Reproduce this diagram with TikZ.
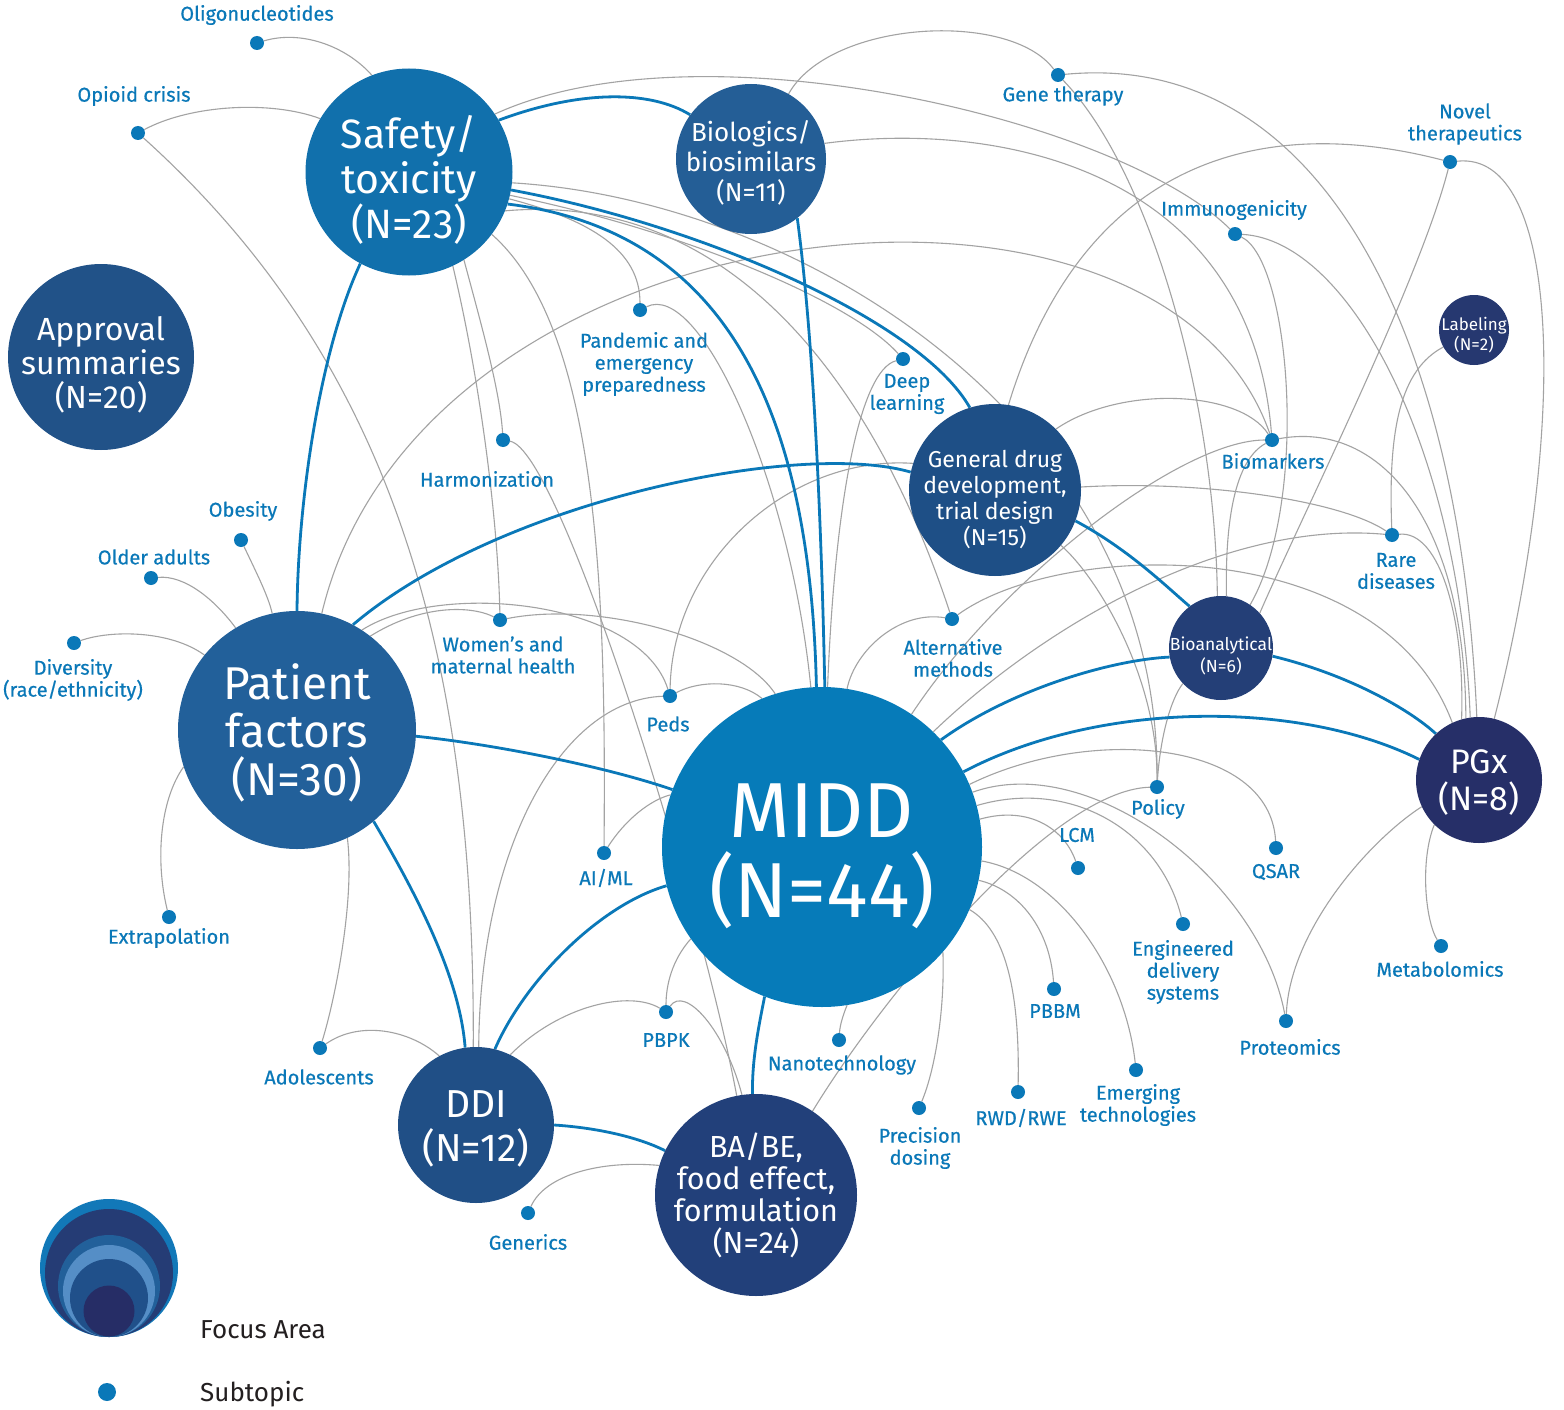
\documentclass[tikz,border=0pt]{standalone}
\usepackage{fontspec}
\setmainfont{Fira Sans}
\newfontfamily\lblfam[FakeBold=0.5]{Fira Sans}
\pgfdeclarelayer{bg}
\pgfdeclarelayer{back}
\pgfsetlayers{bg,back,main}
\definecolor{lblue}{HTML}{0A78B8}
\definecolor{eblue}{HTML}{0A78B8}
\definecolor{egray}{HTML}{A3A3A3}
\definecolor{cS}{HTML}{1170AC}
\definecolor{cAP}{HTML}{215288}
\definecolor{cBI}{HTML}{245E96}
\definecolor{cP}{HTML}{22609A}
\definecolor{cM}{HTML}{067BB9}
\definecolor{cG}{HTML}{1E4F86}
\definecolor{cBA}{HTML}{243F77}
\definecolor{cLA}{HTML}{263870}
\definecolor{cPG}{HTML}{262F68}
\definecolor{cDD}{HTML}{204F86}
\definecolor{cBB}{HTML}{22407A}
\definecolor{legtext}{HTML}{231F20}
\definecolor{lgA}{HTML}{1278B8}
\definecolor{lgB}{HTML}{253C75}
\definecolor{lgC}{HTML}{22609A}
\definecolor{lgD}{HTML}{558EC6}
\definecolor{lgE}{HTML}{20508A}
\definecolor{lgF}{HTML}{262D66}
\newcommand{\gE}[4]{\draw[gline] #1 .. controls #2 and #3 .. #4;}
\newcommand{\bE}[4]{\draw[bline] #1 .. controls #2 and #3 .. #4;}
\tikzset{
  focus/.style={circle, inner sep=0pt, minimum size=#1},
  ftext/.style={text=white, align=center, inner sep=0pt},
  dot/.style={circle, fill=lblue, inner sep=0pt, minimum size=14pt},
  lbl/.style={text=lblue, align=center, inner sep=0pt, font=\lblfam\fontsize{20}{22}\selectfont},
  gline/.style={draw=egray, line width=1.1pt},
  bline/.style={draw=eblue, line width=2.8pt},
  legtxt/.style={anchor=base west, text=legtext, inner sep=0pt, font=\fontsize{26}{28}\selectfont}
}
\begin{document}
\begin{tikzpicture}[x=1pt,y=-1pt]
\useasboundingbox (0,0) rectangle (1564,1410);
\begin{pgfonlayer}{bg}
\fill[white] (0,0) rectangle (1564,1410);
\end{pgfonlayer}

% focus areas (circle and its text)
\node[focus=207pt, fill=cS] (S) at (409,172) {};
\node[ftext, font=\fontsize{41}{45}\selectfont] (tS) at ([yshift=-7.5pt]S.center) {Safety/\\toxicity\\(N=23)};
\node[focus=186pt, fill=cAP] (AP) at (101,357) {};
\node[ftext, font=\fontsize{32}{34}\selectfont] (tAP) at ([yshift=-8pt]AP.center) {Approval\\summaries\\(N=20)};
\node[focus=150pt, fill=cBI] (BI) at (751,159) {};
\node[ftext, font=\fontsize{26}{30}\selectfont] (tBI) at ([yshift=-4pt]BI.center) {Biologics/\\biosimilars\\(N=11)};
\node[focus=238pt, fill=cP] (P) at (297,730) {};
\node[ftext, font=\fontsize{46}{48}\selectfont] (tP) at ([yshift=-3pt]P.center) {Patient\\factors\\(N=30)};
\node[focus=320pt, fill=cM] (M) at (822,847) {};
\node[ftext, font=\fontsize{78}{80}\selectfont] (tM) at ([yshift=-9pt]M.center) {MIDD\\(N=44)};
\node[focus=172pt, fill=cG] (G) at (995,490) {};
\node[ftext, font=\fontsize{23}{26}\selectfont] (tG) at ([yshift=-10pt]G.center) {General drug\\development,\\trial design\\(N=15)};
\node[focus=104pt, fill=cBA] (bioa) at (1221,648) {};
\node[ftext, font=\fontsize{17.5}{22}\selectfont] (tbioa) at ([yshift=-8pt]bioa.center) {Bioanalytical\\(N=6)};
\node[focus=70pt, fill=cLA] (LA) at (1474,330) {};
\node[ftext, font=\fontsize{17}{20}\selectfont] (tLA) at ([yshift=-5pt]LA.center) {Labeling\\(N=2)};
\node[focus=126pt, fill=cPG] (PG) at (1479,780) {};
\node[ftext, font=\fontsize{34}{37}\selectfont] (tPG) at ([yshift=-3pt]PG.center) {PGx\\(N=8)};
\node[focus=156pt, fill=cDD] (DD) at (476,1125) {};
\node[ftext, font=\fontsize{39}{44}\selectfont] (tDD) at ([yshift=-4pt]DD.center) {DDI\\(N=12)};
\node[focus=202pt, fill=cBB] (BB) at (756,1195) {};
\node[ftext, font=\fontsize{30.5}{32}\selectfont] (tBB) at (BB.center) {BA/BE,\\food effect,\\formulation\\(N=24)};

% subtopic dots
\node[dot] (oligo) at (257,43) {};
\node[dot] (opioid) at (138,133) {};
\node[dot] (gene) at (1058,75) {};
\node[dot] (novel) at (1450,162) {};
\node[dot] (immuno) at (1235,234) {};
\node[dot] (pand) at (640,310) {};
\node[dot] (deep) at (903,359) {};
\node[dot] (harm) at (503,440) {};
\node[dot] (biom) at (1272,440) {};
\node[dot] (obes) at (241,540) {};
\node[dot] (older) at (151,578) {};
\node[dot] (rare) at (1392,535) {};
\node[dot] (divers) at (74,643) {};
\node[dot] (women) at (500,620) {};
\node[dot] (altm) at (952,619) {};
\node[dot] (peds) at (670,696) {};
\node[dot] (policy) at (1157,787) {};
\node[dot] (lcm) at (1078,868) {};
\node[dot] (qsar) at (1276,848) {};
\node[dot] (aiml) at (604,853) {};
\node[dot] (extrap) at (169,917) {};
\node[dot] (engd) at (1183,924) {};
\node[dot] (metab) at (1441,946) {};
\node[dot] (pbbm) at (1054,989) {};
\node[dot] (prot) at (1286,1021) {};
\node[dot] (pbpk) at (666,1012) {};
\node[dot] (nano) at (839,1040) {};
\node[dot] (adol) at (320,1048) {};
\node[dot] (emerg) at (1136,1070) {};
\node[dot] (rwd) at (1018,1092) {};
\node[dot] (prec) at (919,1108) {};
\node[dot] (gener) at (528,1213) {};

% subtopic labels
\node[lbl] (loligo) at (257,15) {Oligonucleotides};
\node[lbl] (lopioid) at (134,96) {Opioid crisis};
\node[lbl] (lgene) at (1063,96) {Gene therapy};
\node[lbl] (lnovel) at (1465,124) {Novel\\therapeutics};
\node[lbl] (limmuno) at (1234,210) {Immunogenicity};
\node[lbl] (lpand) at (644,364) {Pandemic and\\emergency\\preparedness};
\node[lbl] (ldeep) at (907,394) {Deep\\learning};
\node[lbl] (lharm) at (487,479) {Harmonization};
\node[lbl] (lbiom) at (1273,461) {Biomarkers};
\node[lbl] (lobes) at (243,511) {Obesity};
\node[lbl] (lolder) at (154,557) {Older adults};
\node[lbl] (lrare) at (1396,571) {Rare\\diseases};
\node[lbl] (ldivers) at (73,680) {Diversity\\(race/ethnicity)};
\node[lbl] (lwomen) at (503,655) {Women’s and\\maternal health};
\node[lbl] (laltm) at (953,658) {Alternative\\methods};
\node[lbl] (lpeds) at (668,724) {Peds};
\node[lbl] (lpolicy) at (1158,809) {Policy};
\node[lbl] (llcm) at (1077,835) {LCM};
\node[lbl] (lqsar) at (1276,872) {QSAR};
\node[lbl] (laiml) at (606,878) {AI/ML};
\node[lbl] (lextrap) at (169,938) {Extrapolation};
\node[lbl] (lengd) at (1183,972) {Engineered\\delivery\\systems};
\node[lbl] (lmetab) at (1440,969) {Metabolomics};
\node[lbl] (lpbbm) at (1055,1011) {PBBM};
\node[lbl] (lprot) at (1290,1047) {Proteomics};
\node[lbl] (lpbpk) at (666,1040) {PBPK};
\node[lbl] (lnano) at (842,1065) {Nanotechnology};
\node[lbl] (ladol) at (319,1077) {Adolescents};
\node[lbl] (lemerg) at (1138,1105) {Emerging\\technologies};
\node[lbl] (lrwd) at (1021,1118) {RWD/RWE};
\node[lbl] (lprec) at (920,1148) {Precision\\dosing};
\node[lbl] (lgener) at (528,1242) {Generics};

% legend
\fill[lgA] (109,1268) circle[radius=69pt];
\fill[lgB] (109,1273) circle[radius=64pt];
\fill[lgC] (109,1286) circle[radius=51pt];
\fill[lgD] (109,1291) circle[radius=46pt];
\fill[lgE] (109,1298) circle[radius=39pt];
\fill[lgF] (109,1311) circle[radius=25.5pt];
\node[circle, fill=lblue, inner sep=0pt, minimum size=18pt] (legdot) at (107,1392) {};
\node[legtxt] (lfocus) at (200,1338) {Focus Area};
\node[legtxt] (lsub) at (200,1401) {Subtopic};

\begin{pgfonlayer}{back}
% gray connectors
\gE{(oligo)}{(300,30)}{(345,45)}{(S.111)}
\gE{(opioid)}{(190,105)}{(270,100)}{(S.149)}
\gE{(opioid)}{(390,360)}{(475,650)}{(DD.92)}
\gE{(S.-58.6)}{(480,320)}{(500,390)}{(harm)}
\gE{(S.-65)}{(480,380)}{(498,520)}{(women)}
\gE{(S.-37.7)}{(600,330)}{(606,600)}{(aiml)}
\gE{(S.-15.5)}{(590,220)}{(640,250)}{(pand)}
\gE{(S.-13)}{(680,230)}{(850,300)}{(deep)}
\gE{(S.-22)}{(740,190)}{(880,400)}{(altm)}
\gE{(S.-6)}{(800,200)}{(1160,420)}{(policy)}
\gE{(S.34)}{(700,20)}{(1120,120)}{(immuno)}
\gE{(BI.60)}{(830,20)}{(1010,10)}{(gene)}
\gE{(BI.12)}{(1000,120)}{(1250,170)}{(biom)}
\gE{(gene)}{(1320,50)}{(1460,330)}{(PG.92)}
\gE{(gene)}{(1150,170)}{(1215,400)}{(bioa.94.5)}
\gE{(immuno)}{(1350,240)}{(1460,450)}{(PG.98)}
\gE{(immuno)}{(1290,260)}{(1310,500)}{(bioa.56)}
\gE{(novel)}{(1250,110)}{(1080,170)}{(G.81)}
\gE{(novel)}{(1560,150)}{(1570,420)}{(PG.76)}
\gE{(novel)}{(1420,280)}{(1300,520)}{(bioa.42.6)}
\gE{(LA.209)}{(1400,370)}{(1388,430)}{(rare)}
\gE{(G.45)}{(1120,385)}{(1240,390)}{(biom)}
\gE{(biom)}{(1380,420)}{(1465,520)}{(PG.102)}
\gE{(biom)}{(1235,460)}{(1225,520)}{(bioa.84.4)}
\gE{(biom)}{(1180,440)}{(1000,580)}{(M.56.7)}
\gE{(G.2)}{(1200,480)}{(1340,500)}{(rare)}
\gE{(rare)}{(1440,530)}{(1465,620)}{(PG.106)}
\gE{(rare)}{(1230,520)}{(1050,620)}{(M.46.8)}
\gE{(altm)}{(1060,540)}{(1380,530)}{(PG.115)}
\gE{(altm)}{(900,610)}{(855,650)}{(M.81.5)}
\gE{(deep)}{(860,370)}{(835,500)}{(M.88)}
\gE{(G.162)}{(790,455)}{(672,560)}{(peds)}
\gE{(G.-40.7)}{(1100,580)}{(1158,680)}{(policy)}
\gE{(bioa.-137)}{(1170,700)}{(1160,740)}{(policy)}
\gE{(policy)}{(1050,790)}{(880,1000)}{(BB.56.6)}
\gE{(M.23.5)}{(1090,725)}{(1270,740)}{(qsar)}
\gE{(M.20)}{(1090,750)}{(1260,880)}{(prot)}
\gE{(M.15.8)}{(1070,778)}{(1160,830)}{(engd)}
\gE{(M.10.8)}{(1030,805)}{(1065,830)}{(lcm)}
\gE{(M.-5.8)}{(1060,875)}{(1125,970)}{(emerg)}
\gE{(M.-12)}{(1020,890)}{(1050,930)}{(pbbm)}
\gE{(M.-23.5)}{(1005,930)}{(1020,990)}{(rwd)}
\gE{(prot)}{(1290,930)}{(1370,840)}{(PG.205)}
\gE{(PG.225.6)}{(1420,860)}{(1425,920)}{(metab)}
\gE{(M.-41.5)}{(945,1010)}{(935,1070)}{(prec)}
\gE{(M.-81.7)}{(843,1015)}{(840,1025)}{(nano)}
\gE{(M.215)}{(672,960)}{(666,985)}{(pbpk)}
\gE{(pbpk)}{(630,990)}{(560,1005)}{(DD.64)}
\gE{(pbpk)}{(685,985)}{(725,1030)}{(BB.98)}
\gE{(harm)}{(560,450)}{(700,900)}{(BB.101)}
\gE{(P.57)}{(440,580)}{(640,600)}{(peds)}
\gE{(P.52)}{(420,605)}{(470,605)}{(women)}
\gE{(women)}{(600,600)}{(740,640)}{(M.107.6)}
\gE{(peds)}{(700,680)}{(740,680)}{(M.112.5)}
\gE{(peds)}{(560,700)}{(480,850)}{(DD.88)}
\gE{(aiml)}{(625,820)}{(650,800)}{(M.161.6)}
\gE{(P.78)}{(420,200)}{(1160,120)}{(biom)}
\gE{(P.-65)}{(355,900)}{(335,1000)}{(adol)}
\gE{(adol)}{(360,1020)}{(410,1030)}{(DD.118.5)}
\gE{(obes)}{(255,570)}{(268,595)}{(P.102)}
\gE{(older)}{(185,575)}{(215,600)}{(P.121)}
\gE{(divers)}{(110,630)}{(170,630)}{(P.141)}
\gE{(extrap)}{(155,860)}{(160,800)}{(P.198)}
\gE{(BB.163)}{(600,1160)}{(545,1175)}{(gener)}
\gE{(pand)}{(700,280)}{(790,480)}{(M.94)}
% blue connectors between focus areas
\bE{(S.30)}{(580,90)}{(650,90)}{(BI.144.5)}
\bE{(S.-10)}{(700,225)}{(920,320)}{(G.107)}
\bE{(S.-18)}{(720,230)}{(810,400)}{(M.92)}
\bE{(BI.-52.7)}{(815,350)}{(822,550)}{(M.89.5)}
\bE{(S.-118.6)}{(320,350)}{(298,500)}{(P.90.5)}
\bE{(P.62.4)}{(500,500)}{(800,440)}{(G.168)}
\bE{(P.-3.4)}{(500,745)}{(610,768)}{(M.159)}
\bE{(P.-50.4)}{(420,900)}{(460,980)}{(DD.98)}
\bE{(M.194)}{(600,905)}{(525,980)}{(DD.76)}
\bE{(M.249)}{(758,1030)}{(752,1060)}{(BB.92)}
\bE{(DD.-0.7)}{(600,1128)}{(640,1138)}{(BB.154)}
\bE{(G.-21)}{(1130,550)}{(1170,590)}{(bioa.127)}
\bE{(M.42.7)}{(1010,690)}{(1110,660)}{(bioa.190)}
\bE{(M.28.3)}{(1100,700)}{(1300,700)}{(PG.161)}
\bE{(bioa.-9)}{(1350,675)}{(1410,710)}{(PG.133)}
\end{pgfonlayer}
\end{tikzpicture}
\end{document}
